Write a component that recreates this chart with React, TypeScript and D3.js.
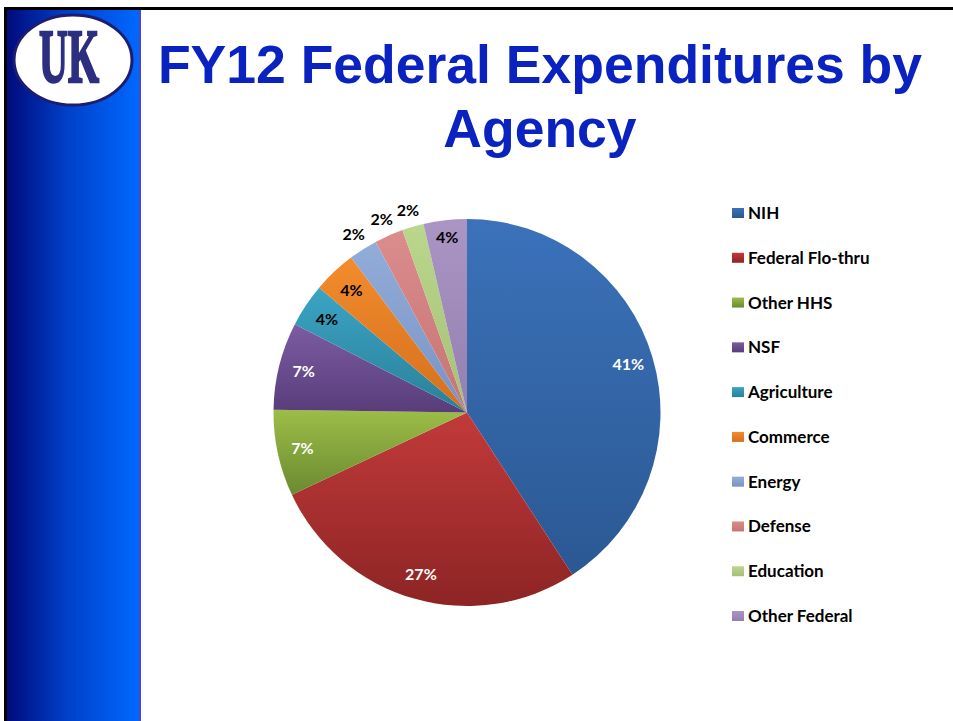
import React from 'react';
import * as d3 from 'd3';

const agencies = ['NIH', 'Federal Flo-thru', 'Other HHS', 'NSF', 'Agriculture', 'Commerce', 'Energy', 'Defense', 'Education', 'Other Federal'];
const shares = [40.7, 27.1, 7.2, 7.3, 3.6, 3.6, 2.4, 2.4, 1.8, 3.6];
const topColors = ['#3b72ba', '#c23a3a', '#9dbd48', '#7c5ca2', '#3ba4c4', '#f28c2c', '#93add9', '#db8c8c', '#bbd68d', '#aa95c4'];
const bottomColors = ['#2b5893', '#8d2424', '#6a8a31', '#583d7a', '#2a8099', '#d56f1d', '#7892c4', '#c67474', '#a3c177', '#9480b0'];
const darkLabel = [true, true, true, true, false, false, false, false, false, false];
const outsideLabel = [false, false, false, false, false, false, true, true, true, false];

const W = 953;
const H = 721;
const cx = 467;
const cy = 412.5;
const R = 193.5;

export default function App() {
  const pie = d3.pie<number>().value(d => d).sort(null);
  const arcs = pie(shares);
  const arc = d3.arc<d3.PieArcDatum<number>>().innerRadius(0).outerRadius(R);
  const total = d3.sum(shares);

  const legendY = d3.scalePoint<string>().domain(agencies).range([213, 616]);

  return (
    <svg width={W} height={H} style={{ position: 'absolute', left: 0, top: 0 }}>
      <defs>
        <linearGradient id="side" x1="0" x2="1" y1="0" y2="0">
          <stop offset="0" stopColor="#000a7c" />
          <stop offset="0.45" stopColor="#0040c8" />
          <stop offset="1" stopColor="#0068ff" />
        </linearGradient>
        {agencies.map((a, i) => (
          <linearGradient key={a} id={`g${i}`} x1="0" x2="0" y1="0" y2="1">
            <stop offset="0" stopColor={topColors[i]} />
            <stop offset="1" stopColor={bottomColors[i]} />
          </linearGradient>
        ))}
      </defs>
      <rect x={0} y={0} width={W} height={H} fill="#fff" />

      {/* left band */}
      <rect x={7} y={9} width={132} height={H - 9} fill="url(#side)" />
      <rect x={4} y={9} width={3} height={H - 9} fill="#000" />
      <rect x={139} y={9} width={2} height={H - 9} fill="#4a4ac0" />
      <rect x={4} y={7} width={W - 4} height={3} fill="#000" />

      {/* logo */}
      <ellipse cx={73} cy={60} rx={59} ry={45} fill="#fff" stroke="#1c1c70" strokeWidth={3} />
      <text x={69} y={82} textAnchor="middle" fontFamily="'Liberation Serif', serif" fontWeight="bold"
        fontSize={76} fill="#2c2f80" stroke="#2c2f80" strokeWidth={2.5}
        textLength={60} lengthAdjust="spacingAndGlyphs">UK</text>

      {/* title */}
      <g fontFamily="'Liberation Sans', Arial, sans-serif" fontWeight="bold" fill="#0a22bf" textAnchor="middle" fontSize={53.5}>
        <text x={540} y={83}>FY12 Federal Expenditures by</text>
        <text x={540} y={147}>Agency</text>
      </g>

      {/* pie */}
      <g transform={`translate(${cx},${cy})`}>
        {arcs.map((d, i) => (
          <path key={agencies[i]} d={arc(d) ?? ''} fill={`url(#g${i})`} />
        ))}
        {arcs.map((d, i) => {
          const mid = (d.startAngle + d.endAngle) / 2;
          const r = outsideLabel[i] ? R * 1.09 : i === 9 ? R * 0.91 : R * 0.87;
          const x = Math.sin(mid) * r;
          const y = -Math.cos(mid) * r;
          return (
            <text key={agencies[i]} x={x} y={y} dy="0.35em" textAnchor="middle"
              fontFamily="Lato, 'Open Sans', sans-serif" fontWeight="bold" fontSize={16}
              fill={darkLabel[i] ? '#fff' : '#000'}>
              {Math.round((shares[i] / total) * 100)}%
            </text>
          );
        })}
      </g>

      {/* legend */}
      <g fontFamily="Lato, 'Open Sans', sans-serif" fontWeight="bold" fontSize={17}>
        {agencies.map((a, i) => (
          <g key={a} transform={`translate(732,${legendY(a)})`}>
            <rect x={0} y={-5} width={12} height={10} fill={`url(#g${i})`} />
            <text x={16} y={0} dy="0.35em" fill="#000">{a}</text>
          </g>
        ))}
      </g>
    </svg>
  );
}
